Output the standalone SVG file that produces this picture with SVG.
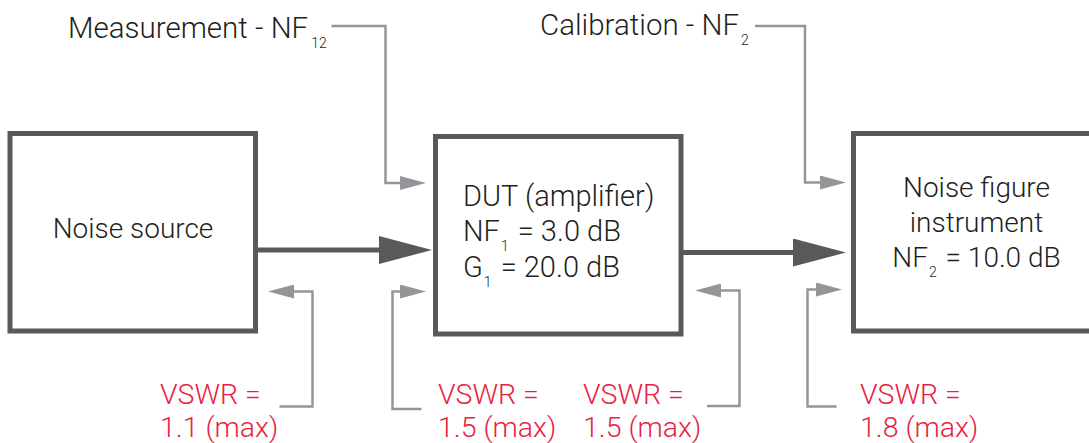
<svg xmlns="http://www.w3.org/2000/svg" width="1089" height="443" viewBox="0 0 1089 443">
  <style>
    .box { fill: #ffffff; stroke: #58595b; stroke-width: 5; }
    .main { fill: none; stroke: #58595b; stroke-width: 5; }
    .aux { fill: none; stroke: #939598; stroke-width: 2.5; }
    .t { font-family: Roboto, "Liberation Sans", sans-serif; font-weight: 300; font-size: 28px; fill: #231f20; }
    .big { font-size: 29.5px; }
    .mid { font-size: 29px; }
    .r { font-family: Roboto, "Liberation Sans", sans-serif; font-weight: 300; font-size: 28.5px; fill: #e8233f; }
    .sub { font-size: 14px; }
  </style>
  <defs>
    <marker id="bigHead" markerUnits="userSpaceOnUse" markerWidth="54" markerHeight="28" refX="0" refY="14" orient="auto">
      <path d="M0,0 L53,14 L0,28 z" fill="#58595b"/>
    </marker>
    <marker id="smallHead" markerUnits="userSpaceOnUse" markerWidth="27" markerHeight="14" refX="0" refY="7" orient="auto">
      <path d="M0,0 L26,7 L0,14 z" fill="#939598"/>
    </marker>
  </defs>

  <g id="connectors">
    <path class="main" d="M258,250 H379" marker-end="url(#bigHead)"/>
    <path class="main" d="M683,252.5 H793" marker-end="url(#bigHead)"/>
    <path class="aux" d="M331.5,26 H385.5 V183 H400" marker-end="url(#smallHead)"/>
    <path class="aux" d="M755,26 H805 V182.5 H820" marker-end="url(#smallHead)"/>
    <path class="aux" d="M279.5,406.5 H312.5 V291.5 H294" marker-end="url(#smallHead)"/>
    <path class="aux" d="M421.5,409 H392.5 V291.5 H400" marker-end="url(#smallHead)"/>
    <path class="aux" d="M707,406 H739.5 V290.5 H721" marker-end="url(#smallHead)"/>
    <path class="aux" d="M836.5,406.5 H807.5 V289.5 H816" marker-end="url(#smallHead)"/>
  </g>

  <g id="measurement-label">
    <text class="t big" x="68" y="38.3">Measurement - NF<tspan class="sub" dx="3" dy="10">12</tspan></text>
  </g>
  <g id="calibration-label">
    <text class="t big" x="540" y="35">Calibration - NF<tspan class="sub" dx="2" dy="10">2</tspan></text>
  </g>

  <g id="noise-source">
    <rect class="box" x="10" y="133.5" width="245.5" height="197.5"/>
    <text class="t" x="133" y="238" text-anchor="middle">Noise source</text>
  </g>

  <g id="dut">
    <rect class="box" x="435.5" y="136.5" width="245.5" height="197.5"/>
    <text class="t mid" x="463" y="206">DUT (amplifier)</text>
    <text class="t mid" x="463" y="241">NF<tspan class="sub" dx="1" dy="10">1</tspan><tspan dx="2" dy="-10"> = 3.0 dB</tspan></text>
    <text class="t mid" x="463" y="277">G<tspan class="sub" dx="1" dy="10">1</tspan><tspan dx="2" dy="-10"> = 20.0 dB</tspan></text>
  </g>

  <g id="instrument">
    <rect class="box" x="853.5" y="133.5" width="245.5" height="197.5"/>
    <text class="t" x="976.5" y="196.7" text-anchor="middle">Noise figure</text>
    <text class="t" x="976.5" y="231.7" text-anchor="middle">instrument</text>
    <text class="t" x="976.5" y="266.7" text-anchor="middle">NF<tspan class="sub" dx="1" dy="10">2</tspan><tspan dx="2" dy="-10"> = 10.0 dB</tspan></text>
  </g>

  <g id="vswr-source">
    <text class="r" x="160" y="403.5">VSWR =</text>
    <text class="r" x="160" y="437">1.1 (max)</text>
  </g>
  <g id="vswr-dut-in">
    <text class="r" x="438" y="403.5">VSWR =</text>
    <text class="r" x="438" y="437">1.5 (max)</text>
  </g>
  <g id="vswr-dut-out">
    <text class="r" x="583" y="403.5">VSWR =</text>
    <text class="r" x="583" y="437">1.5 (max)</text>
  </g>
  <g id="vswr-instrument">
    <text class="r" x="860" y="403.5">VSWR =</text>
    <text class="r" x="860" y="437">1.8 (max)</text>
  </g>
</svg>
